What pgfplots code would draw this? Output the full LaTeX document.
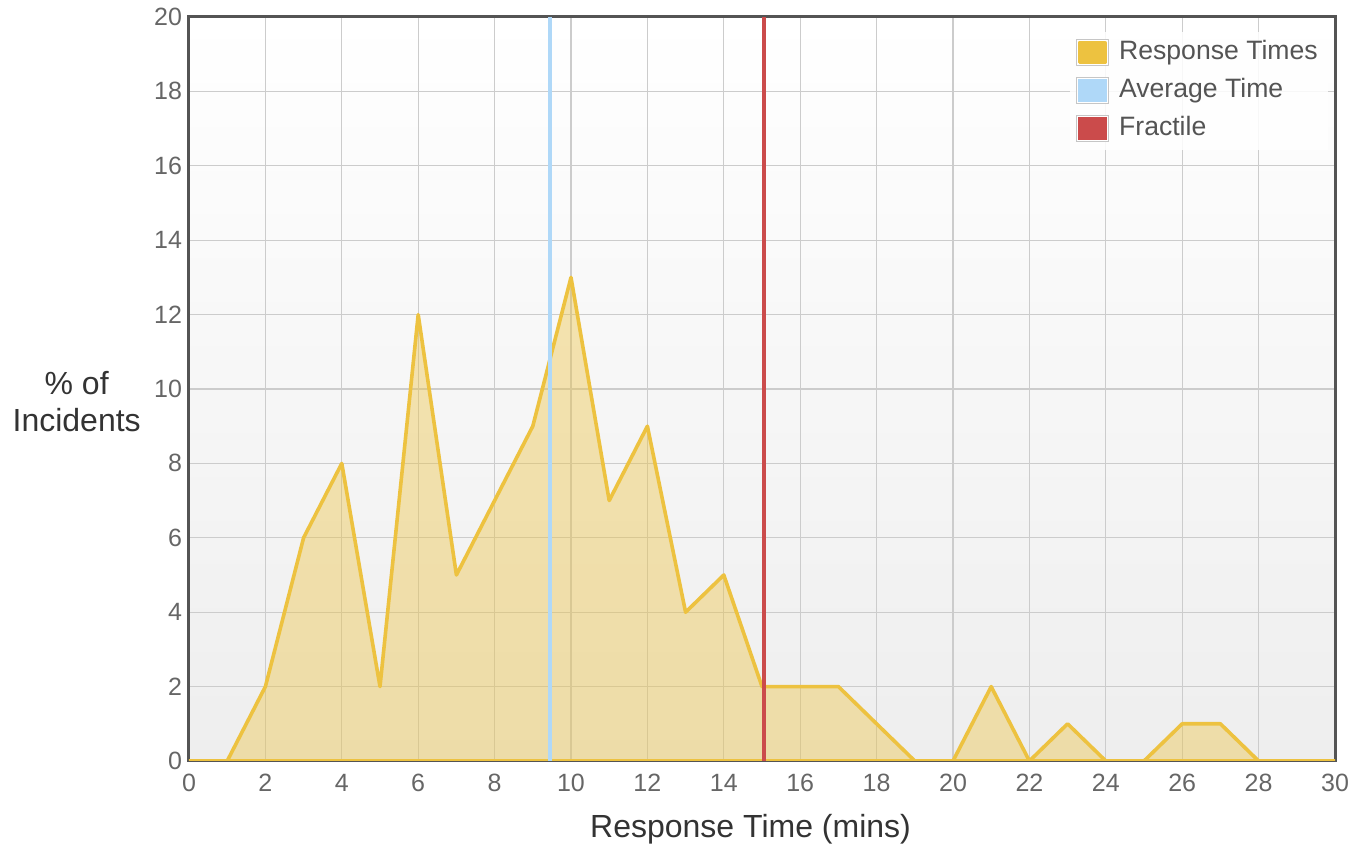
\documentclass[border=0pt]{standalone}
\usepackage{fontspec}
\setmainfont{Liberation Sans}
\usepackage{pgfplots}
\pgfplotsset{compat=1.18}

\definecolor{flotyellow}{HTML}{EDC240}
\definecolor{flotblue}{HTML}{AFD8F8}
\definecolor{flotred}{HTML}{CB4B4B}
\definecolor{framegray}{HTML}{545454}
\definecolor{tickgray}{HTML}{666666}
\definecolor{gridgray}{HTML}{CCCCCC}
\definecolor{bggray}{HTML}{EEEEEE}
\definecolor{labelgray}{HTML}{333333}

% square colour patch in the legend
\pgfplotsset{swatch/.style={legend image code/.code={
  \draw[draw=gray!45, fill=white, line width=0.8pt, fill opacity=1, draw opacity=1] (0pt,-6.5pt) rectangle (16pt,6.5pt);
  \fill[#1, fill opacity=1] (1.6pt,-4.9pt) rectangle (14.4pt,4.9pt);}}}

\begin{document}
\begin{tikzpicture}
\begin{axis}[
  scale only axis, width=573pt, height=372pt,
  xmin=0, xmax=30, ymin=0, ymax=20,
  xtick={0,2,...,30}, ytick={0,2,...,20},
  grid=major, major grid style={gridgray, line width=0.6pt},
  major tick length=0pt,
  axis line style={framegray, line width=1.5pt},
  axis background/.style={top color=white, bottom color=bggray},
  /pgf/number format/assume math mode=true,
  ticklabel style={font=\fontsize{12.5}{15}\selectfont, text=tickgray},
  xticklabel style={yshift=-3pt},
  xlabel={Response Time (mins)},
  ylabel={\% of\\Incidents},
  label style={font=\fontsize{16}{18.5}\selectfont, text=labelgray},
  xlabel style={at={(axis description cs:0.49,-0.092)}, anchor=center},
  ylabel style={at={(axis description cs:-0.098,0.483)}, anchor=center, rotate=-90, align=center},
  legend style={at={(axis description cs:0.994,0.981)}, anchor=north east,
                draw=none, fill=white, fill opacity=0.85, text opacity=1,
                font=\fontsize{13.3}{16}\selectfont, text=framegray,
                nodes={inner sep=2pt, text height=10pt, text depth=3pt}, row sep=2pt,
                /tikz/every odd column/.append style={column sep=3pt}},
  legend cell align=left,
]
\addplot[draw=flotyellow, line width=1.8pt, line join=round, fill=flotyellow, fill opacity=0.4, swatch=flotyellow]
  coordinates {(0,0) (1,0) (2,2) (3,6) (4,8) (5,2) (6,12) (7,5) (8,7) (9,9) (10,13)
               (11,7) (12,9) (13,4) (14,5) (15,2) (16,2) (17,2) (18,1) (19,0) (20,0)
               (21,2) (22,0) (23,1) (24,0) (25,0) (26,1) (27,1) (28,0) (29,0) (30,0)} \closedcycle;
\addlegendentry{Response Times}
\addplot[flotblue, line width=2pt, swatch=flotblue] coordinates {(9.45,0) (9.45,20)};
\addlegendentry{Average Time}
\addplot[flotred, line width=2pt, swatch=flotred] coordinates {(15.05,0) (15.05,20)};
\addlegendentry{Fractile}
\end{axis}
\pgfresetboundingbox
\path (-94.5pt,-44pt) rectangle (584.5pt,380.5pt);
\end{tikzpicture}
\end{document}
